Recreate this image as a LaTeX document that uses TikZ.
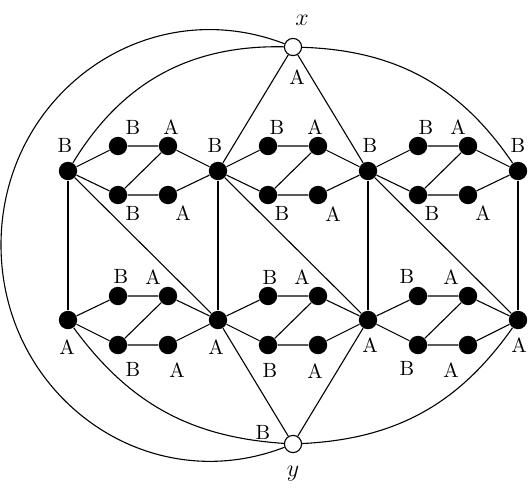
\documentclass[tikz,border=0pt]{standalone}
\begin{document}
\begin{tikzpicture}[x=0.5pt,y=0.5pt,
  vtx/.style={circle,fill=black,inner sep=0pt,minimum size=9.2pt},
  wvtx/.style={circle,draw=black,fill=white,line width=0.55pt,inner sep=0pt,minimum size=8.6pt},
  lbl/.style={inner sep=0pt,font=\fontsize{10.3}{12}\selectfont},
  mlbl/.style={inner sep=0pt,font=\fontsize{12}{14}\selectfont},
  edge/.style={line width=0.55pt}]
\useasboundingbox (0,0) rectangle (529,494);
% vertices
\node[wvtx] (x) at (293,447) {};
\node[wvtx] (y) at (293,50) {};
\foreach \i/\c in {1/68,2/218,3/368,4/518}{
  \node[vtx] (T\i) at (\c,323) {};
  \node[vtx] (U\i) at (\c,174) {};
}
\foreach \i/\c in {1/68,2/218,3/368}{
  \node[vtx] (a\i) at (\c+50,348) {};
  \node[vtx] (b\i) at (\c+100,348) {};
  \node[vtx] (c\i) at (\c+50,299) {};
  \node[vtx] (d\i) at (\c+100,299) {};
  \node[vtx] (e\i) at (\c+50,198) {};
  \node[vtx] (f\i) at (\c+100,198) {};
  \node[vtx] (g\i) at (\c+50,149) {};
  \node[vtx] (h\i) at (\c+100,149) {};
}
\coordinate (L) at (1,249);
% edges
\foreach \i/\j in {1/2,2/3,3/4}{
  \draw[edge] (T\i) -- (a\i) -- (b\i) -- (T\j);
  \draw[edge] (T\i) -- (c\i) -- (d\i) -- (T\j);
  \draw[edge] (c\i) -- (b\i);
  \draw[edge] (U\i) -- (e\i) -- (f\i) -- (U\j);
  \draw[edge] (U\i) -- (g\i) -- (h\i) -- (U\j);
  \draw[edge] (g\i) -- (f\i);
  \draw[edge] (T\i) -- (U\j);
}
\foreach \i in {1,2,3,4}{\draw[edge] (T\i) -- (U\i);}
\draw[edge] (x) -- (T2);
\draw[edge] (x) -- (T3);
\draw[edge] (y) -- (U2);
\draw[edge] (y) -- (U3);
\draw[edge] (x) to[bend right=30] (T1);
\draw[edge] (x) to[bend left=27] (T4);
\draw[edge] (U1) to[bend right=25] (y);
\draw[edge] (U4) to[bend left=26] (y);
\draw[edge] (x) to[out=159,in=90,looseness=1.1] (L) to[out=270,in=201,looseness=1.1] (y);
% labels
\node[mlbl] (lx) at (302,474) {$x$};
\node[mlbl] (ly) at (293,20) {$y$};
\node[lbl] (lxA) at (297,417) {A};
\node[lbl] (lyB) at (263,62) {B};
\node[lbl] (lT1) at (65,349) {B};
\node[lbl] (lT2) at (215,349) {B};
\node[lbl] (lT3) at (370,349) {B};
\node[lbl] (lT4) at (518,349) {B};
\node[lbl] (lU1) at (67,147) {A};
\node[lbl] (lU2) at (216,147) {A};
\node[lbl] (lU3) at (370,149) {A};
\node[lbl] (lU4) at (519,149) {A};
% top gadgets
\node[lbl] (la1) at (133,367) {B};
\node[lbl] (lb1) at (171,367) {A};
\node[lbl] (lc1) at (133,281) {B};
\node[lbl] (ld1) at (183,281) {A};
\node[lbl] (la2) at (277,367) {B};
\node[lbl] (lb2) at (315,367) {A};
\node[lbl] (lc2) at (282,281) {B};
\node[lbl] (ld2) at (333,280) {A};
\node[lbl] (la3) at (426,367) {B};
\node[lbl] (lb3) at (458,367) {A};
\node[lbl] (lc3) at (432,281) {B};
\node[lbl] (ld3) at (483,281) {A};
% bottom gadgets
\node[lbl] (le1) at (121,218) {B};
\node[lbl] (lf1) at (153,217) {A};
\node[lbl] (lg1) at (133,125) {B};
\node[lbl] (lh1) at (177,124) {A};
\node[lbl] (le2) at (270,217) {B};
\node[lbl] (lf2) at (302,217) {A};
\node[lbl] (lg2) at (270,124) {B};
\node[lbl] (lh2) at (315,123) {A};
\node[lbl] (le3) at (407,218) {B};
\node[lbl] (lf3) at (451,217) {A};
\node[lbl] (lg3) at (407,126) {B};
\node[lbl] (lh3) at (451,124) {A};
\end{tikzpicture}
\end{document}
